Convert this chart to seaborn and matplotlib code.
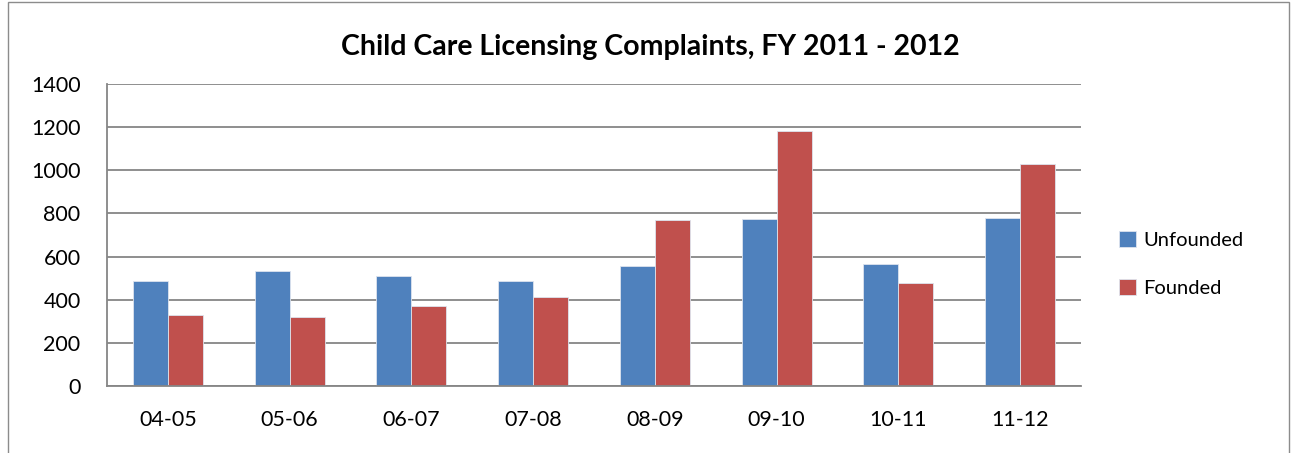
import matplotlib
matplotlib.use("Agg")
import matplotlib.pyplot as plt
import seaborn as sns
import pandas as pd
from matplotlib.patches import Rectangle

categories = ["04-05", "05-06", "06-07", "07-08", "08-09", "09-10", "10-11", "11-12"]
unfounded = [486, 532, 509, 486, 555, 775, 566, 781]
founded = [328, 319, 370, 412, 769, 1180, 478, 1029]
series_names = ["Unfounded", "Founded"]
title = "Child Care Licensing Complaints, FY 2011 - 2012"

df = pd.DataFrame({
    "period": categories * 2,
    "count": unfounded + founded,
    "type": [series_names[0]] * len(categories) + [series_names[1]] * len(categories),
})

sns.set_theme(style="white")
plt.rcParams["font.family"] = ["Lato", "DejaVu Sans"]
plt.rcParams["text.color"] = "black"

fig = plt.figure(figsize=(12.91, 4.53), dpi=100)
ax = fig.add_axes([107 / 1291, (453 - 386) / 453, (1081 - 107) / 1291, (386 - 84) / 453])

sns.barplot(data=df, x="period", y="count", hue="type", hue_order=series_names,
            palette=["#4F81BD", "#C0504D"], saturation=1, width=0.575, gap=0, ax=ax,
            edgecolor="#dde4ee", linewidth=0.6, errorbar=None, legend=True)

ax.set_ylim(0, 1400)
ax.set_yticks(range(0, 1401, 200))
ax.set_xlim(-0.5, len(categories) - 0.5)
ax.yaxis.grid(True, color="#868686", linewidth=1.3)
ax.xaxis.grid(False)
ax.set_axisbelow(True)
for s in ["top", "right"]:
    ax.spines[s].set_visible(False)
for s in ["left", "bottom"]:
    ax.spines[s].set_color("#868686")
    ax.spines[s].set_linewidth(1.3)
ax.set_xlabel("")
ax.set_ylabel("")
ax.tick_params(axis="both", length=0, labelsize=15.5, colors="black")
ax.tick_params(axis="x", pad=17)
ax.tick_params(axis="y", pad=19)

handles, labels = ax.get_legend_handles_labels()
leg = ax.legend(handles, labels, loc="center left", bbox_to_anchor=(1101 / 1291, 1 - 264 / 453),
                bbox_transform=fig.transFigure, frameon=False, fontsize=14.5,
                handlelength=0.85, handleheight=0.85, handletextpad=0.35, labelspacing=1.45)
for t in leg.get_texts():
    t.set_color("black")

fig.text(650 / 1291, 1 - 47 / 453, title, ha="center", va="center",
         fontsize=20.5, fontweight="bold", color="black")

fig.patches.append(Rectangle((8 / 1291, -0.1), (1289 - 8) / 1291, 1.1 - 2 / 453,
                             transform=fig.transFigure, fill=False,
                             edgecolor="#8c8c8c", linewidth=1.0))

fig.savefig("out.png", dpi=100)
